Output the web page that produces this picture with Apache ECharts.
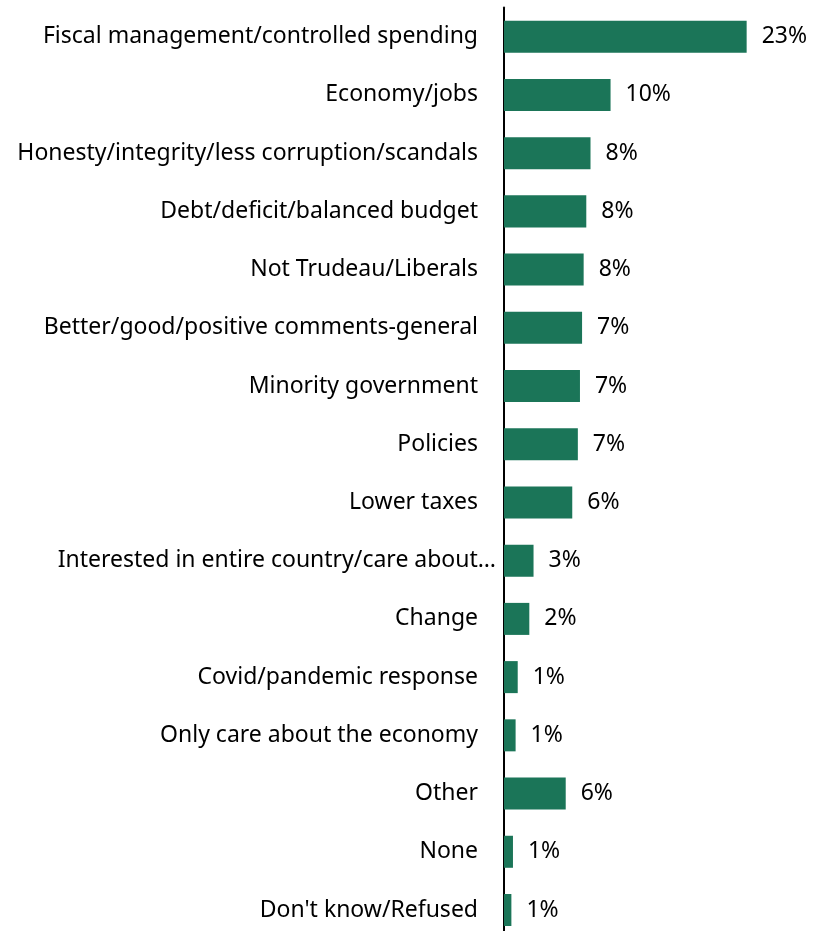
<!DOCTYPE html>
<html><head><meta charset="utf-8">
<script src="https://cdn.jsdelivr.net/npm/echarts@6/dist/echarts.min.js"></script>
<style>html,body{margin:0;padding:0;background:#fff;overflow:hidden}#c{width:813px;height:945px}</style>
</head><body><div id="c"></div>
<script>
const categories = [
  "Fiscal management/controlled spending",
  "Economy/jobs",
  "Honesty/integrity/less corruption/scandals",
  "Debt/deficit/balanced budget",
  "Not Trudeau/Liberals",
  "Better/good/positive comments-general",
  "Minority government",
  "Policies",
  "Lower taxes",
  "Interested in entire country/care about…",
  "Change",
  "Covid/pandemic response",
  "Only care about the economy",
  "Other",
  "None",
  "Don't know/Refused"
];
const values = [23.0, 10.1, 8.2, 7.8, 7.55, 7.4, 7.2, 7.0, 6.47, 2.8, 2.4, 1.3, 1.1, 5.85, 0.85, 0.7];

const chart = echarts.init(document.getElementById('c'), null, {renderer:'canvas'});
chart.setOption({
  animation: false,
  grid: {left: 504, top: 7.6, width: 295.4, height: 931.5, containLabel: false},
  xAxis: {type:'value', min:0, max:28, show:false},
  yAxis: {
    type:'category', data: categories, inverse: true,
    axisLine: {show:true, lineStyle:{color:'#000', width:2}},
    axisTick: {show:false},
    axisLabel: {color:'#000', fontFamily:'Noto Sans', fontSize:23, margin:8,
      formatter: v => v.endsWith('…') ? '{e|' + v + '}' : '{n|' + v + '}',
      rich: {
        n: {color:'#000', fontFamily:'Noto Sans', fontSize:23, padding:[0,18,0,0]},
        e: {color:'#000', fontFamily:'Noto Sans', fontSize:23, padding:[0,0,0,0]}
      }
    }
  },
  series: [{
    type:'bar', data: values, barCategoryGap:'45%',
    itemStyle:{color:'#1b7558'},
    label:{show:true, position:'right', distance:15, color:'#000', fontFamily:'Noto Sans', fontSize:23,
      formatter: p => Math.round(p.value) + '%'}
  }]
});
</script></body></html>
